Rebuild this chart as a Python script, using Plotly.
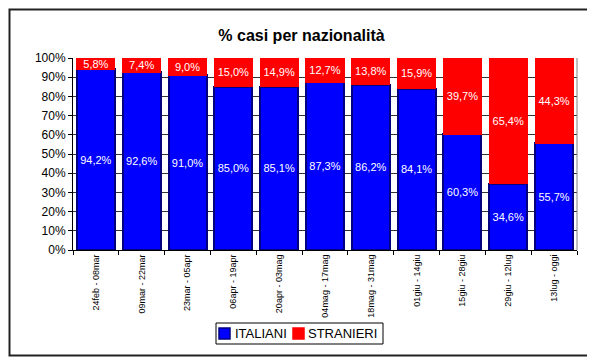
import plotly.graph_objects as go

categories = ["24feb - 08mar", "09mar - 22mar", "23mar - 05apr", "06apr - 19apr",
              "20apr - 03mag", "04mag - 17mag", "18mag - 31mag", "01giu - 14giu",
              "15giu - 28giu", "29giu - 12lug", "13lug - oggi"]
italiani = [94.2, 92.6, 91.0, 85.0, 85.1, 87.3, 86.2, 84.1, 60.3, 34.6, 55.7]
stranieri = [5.8, 7.4, 9.0, 15.0, 14.9, 12.7, 13.8, 15.9, 39.7, 65.4, 44.3]
y_ticks = [0, 10, 20, 30, 40, 50, 60, 70, 80, 90, 100]
series_names = ["ITALIANI", "STRANIERI"]
series_colors = ["#0000FF", "#FF0000"]
series_borders = ["#000080", "#FF0000"]

def fmt(v):
    return f"{v:.1f}".replace(".", ",") + "%"

FONT = "Liberation Sans, Arial, sans-serif"
OFF = 8  # page body margin offset

W, H = 595 - OFF, 361 - OFF
PL, PR, PT, PB = 73 - OFF, 577 - OFF, 58 - OFF, 250 - OFF
pw, ph = PR - PL, PB - PT

def px(x):  # page x -> paper
    return (x - 73) / pw

def py(y):  # page y -> paper
    return (250 - y) / ph

fig = go.Figure()
for vals, name, col, bcol in zip([italiani, stranieri], series_names,
                                 series_colors, series_borders):
    fig.add_trace(go.Bar(
        x=categories, y=vals, name=name,
        marker=dict(color=col, line=dict(color=bcol, width=2 if bcol != col else 1)),
        text=[fmt(v) for v in vals], textposition="inside",
        insidetextanchor="middle", textangle=0, constraintext="none",
        textfont=dict(color="white", size=11, family=FONT),
    ))

fig.update_layout(
    barmode="stack", bargap=0.17,
    width=W, height=H,
    margin=dict(l=PL, r=W - PR, t=PT, b=H - PB, autoexpand=False),
    paper_bgcolor="white", plot_bgcolor="white",
    font=dict(family=FONT, color="black", size=11),
    title=dict(text="<b>% casi per nazionalità</b>", x=0.5, xanchor="center",
               y=1 - (35 - OFF) / H, yref="container", yanchor="middle",
               font=dict(size=16, family=FONT, color="black")),
    uniformtext=dict(mode=False),
    showlegend=False,
)
fig.update_yaxes(range=[0, 100], tickvals=y_ticks,
                 ticktext=[f"{t}%" for t in y_ticks],
                 showgrid=True, gridcolor="#333333", gridwidth=1,
                 showline=True, linecolor="black", linewidth=1,
                 ticks="outside", ticklen=4, tickcolor="black",
                 tickfont=dict(size=12), zeroline=False, automargin=False)
fig.update_xaxes(showline=True, linecolor="black", linewidth=1,
                 tickangle=-90, tickfont=dict(size=9),
                 ticks="outside", ticklen=4, tickcolor="black",
                 tickson="boundaries", mirror=False, automargin=False)

# right plot edge line (gray)
fig.add_shape(type="line", xref="paper", yref="paper", x0=1, x1=1, y0=0, y1=1,
              line=dict(color="#808080", width=1))
# outer frame
fig.add_shape(type="rect", xref="paper", yref="paper",
              x0=px(9.5), x1=px(589), y0=py(355.5), y1=py(9.5),
              line=dict(color="#222222", width=2))

# legend (box, swatches, labels)
fig.add_shape(type="rect", xref="paper", yref="paper",
              x0=px(216), x1=px(383), y0=py(344), y1=py(323),
              line=dict(color="black", width=1), fillcolor="white")
sw_x = [219, 293]
tx_x = [233, 306]
for sx, tx, name, col, bcol in zip(sw_x, tx_x, series_names, series_colors, series_borders):
    fig.add_shape(type="rect", xref="paper", yref="paper",
                  x0=px(sx), x1=px(sx + 11), y0=py(339), y1=py(328),
                  line=dict(color=bcol, width=1.5), fillcolor=col)
    fig.add_annotation(text=name, xref="paper", yref="paper", x=px(tx), y=py(333.5),
                       xanchor="left", yanchor="middle", showarrow=False,
                       font=dict(size=13, family=FONT, color="black"))

fig.write_html("out.html")
